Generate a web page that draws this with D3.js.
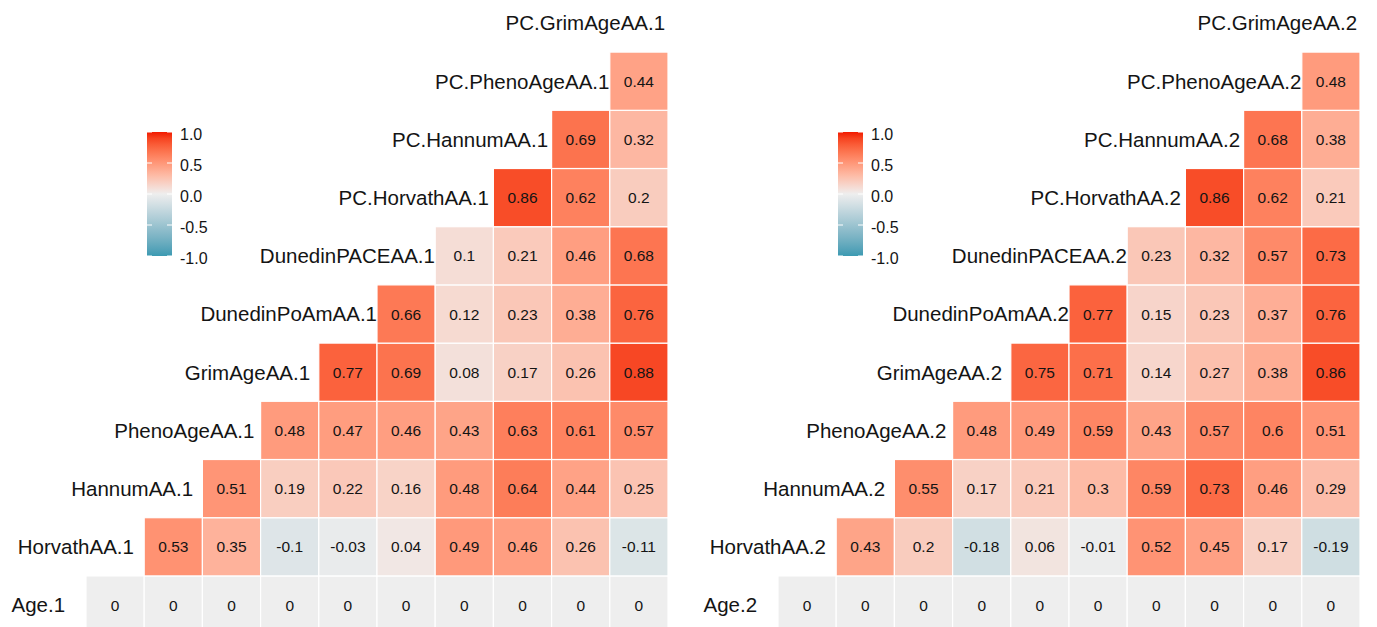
<!DOCTYPE html>
<html>
<head>
<meta charset="utf-8">
<script src="https://cdn.jsdelivr.net/npm/d3@7"></script>
<style>
  html, body { margin: 0; padding: 0; background: #ffffff; }
  svg { display: block; font-family: "Liberation Sans", Arial, Helvetica, sans-serif; }
</style>
</head>
<body>
<svg id="chart" width="1377" height="627"></svg>
<script>
// ---------------- data ----------------
const varNames = ["Age", "HorvathAA", "HannumAA", "PhenoAgeAA", "GrimAgeAA",
  "DunedinPoAmAA", "DunedinPACEAA", "PC.HorvathAA", "PC.HannumAA", "PC.PhenoAgeAA", "PC.GrimAgeAA"];

// row k (bottom = Age) holds correlations drawn in columns k..9
const corr1 = [
  [0, 0, 0, 0, 0, 0, 0, 0, 0, 0],
  [0.53, 0.35, -0.1, -0.03, 0.04, 0.49, 0.46, 0.26, -0.11],
  [0.51, 0.19, 0.22, 0.16, 0.48, 0.64, 0.44, 0.25],
  [0.48, 0.47, 0.46, 0.43, 0.63, 0.61, 0.57],
  [0.77, 0.69, 0.08, 0.17, 0.26, 0.88],
  [0.66, 0.12, 0.23, 0.38, 0.76],
  [0.1, 0.21, 0.46, 0.68],
  [0.86, 0.62, 0.2],
  [0.69, 0.32],
  [0.44],
  []
];
const corr2 = [
  [0, 0, 0, 0, 0, 0, 0, 0, 0, 0],
  [0.43, 0.2, -0.18, 0.06, -0.01, 0.52, 0.45, 0.17, -0.19],
  [0.55, 0.17, 0.21, 0.3, 0.59, 0.73, 0.46, 0.29],
  [0.48, 0.49, 0.59, 0.43, 0.57, 0.6, 0.51],
  [0.75, 0.71, 0.14, 0.27, 0.38, 0.86],
  [0.77, 0.15, 0.23, 0.37, 0.76],
  [0.23, 0.32, 0.57, 0.73],
  [0.86, 0.62, 0.21],
  [0.68, 0.38],
  [0.48],
  []
];
const legendBreaks = [1.0, 0.5, 0.0, -0.5, -1.0];
const panelSuffixes = [".1", ".2"];

// ---------------- drawing ----------------
const svg = d3.select("#chart");
const color = d3.scaleLinear()
  .domain([-1, 0, 1])
  .range(["#3B9AB2", "#EEEEEE", "#F21A00"])
  .interpolate(d3.interpolateLab);

const cell = 58.2;
const panels = [
  { data: corr1, suffix: panelSuffixes[0], x0: 86, legX: 147 },
  { data: corr2, suffix: panelSuffixes[1], x0: 778, legX: 838 }
];
const yBottom = 634.1;

const defs = svg.append("defs");
const grad = defs.append("linearGradient").attr("id", "legGrad")
  .attr("x1", 0).attr("y1", 1).attr("x2", 0).attr("y2", 0);
d3.range(0, 1.0001, 0.05).forEach(t => {
  grad.append("stop").attr("offset", t).attr("stop-color", color(-1 + 2 * t));
});

panels.forEach((p, pi) => {
  const g = svg.append("g");
  const x = d3.scaleBand().domain(d3.range(11)).range([p.x0, p.x0 + 11 * cell]).padding(0);
  const y = d3.scaleBand().domain(d3.range(11)).range([yBottom, yBottom - 11 * cell]).padding(0);

  const cells = [];
  p.data.forEach((row, k) => {
    row.forEach((v, i) => cells.push({ row: k, col: k + i, v }));
  });

  g.selectAll("rect.cell").data(cells).join("rect")
    .attr("class", "cell")
    .attr("x", d => x(d.col))
    .attr("y", d => y(d.row))
    .attr("width", x.bandwidth())
    .attr("height", y.bandwidth())
    .attr("fill", d => color(d.v))
    .attr("stroke", "#ffffff")
    .attr("stroke-width", 1.2);

  g.selectAll("text.val").data(cells).join("text")
    .attr("class", "val")
    .attr("x", d => x(d.col) + x.bandwidth() / 2)
    .attr("y", d => y(d.row) + y.bandwidth() / 2)
    .attr("dy", "0.36em")
    .attr("text-anchor", "middle")
    .attr("font-size", 15.5)
    .attr("fill", "#141414")
    .text(d => String(d.v));

  // diagonal variable labels
  const labs = g.selectAll("text.lab").data(varNames).join("text")
    .attr("class", "lab")
    .attr("y", (d, k) => y(k) + y.bandwidth() / 2)
    .attr("dy", "0.36em")
    .attr("text-anchor", "end")
    .attr("font-size", 20.5)
    .attr("fill", "#141414")
    .text(d => d + p.suffix);
  labs.each(function (d, k) {
    const w = this.getComputedTextLength();
    d3.select(this).attr("x", x(k) - 30 + 0.17 * w);
  });

  // legend
  const ly = d3.scaleLinear().domain([-1, 1]).range([256, 132]);
  const lg = svg.append("g");
  lg.append("rect")
    .attr("x", p.legX).attr("y", ly(1))
    .attr("width", 25).attr("height", ly(-1) - ly(1))
    .attr("fill", "url(#legGrad)");
  legendBreaks.forEach(b => {
    lg.append("line").attr("x1", p.legX).attr("x2", p.legX + 5)
      .attr("y1", ly(b)).attr("y2", ly(b)).attr("stroke", "#ffffff").attr("stroke-width", 1);
    lg.append("line").attr("x1", p.legX + 20).attr("x2", p.legX + 25)
      .attr("y1", ly(b)).attr("y2", ly(b)).attr("stroke", "#ffffff").attr("stroke-width", 1);
  });
  lg.selectAll("text").data(legendBreaks).join("text")
    .attr("x", p.legX + 33)
    .attr("y", d => ly(d) + 2)
    .attr("dy", "0.36em")
    .attr("font-size", 16)
    .attr("fill", "#141414")
    .text(d => d.toFixed(1));
});
</script>
</body>
</html>
